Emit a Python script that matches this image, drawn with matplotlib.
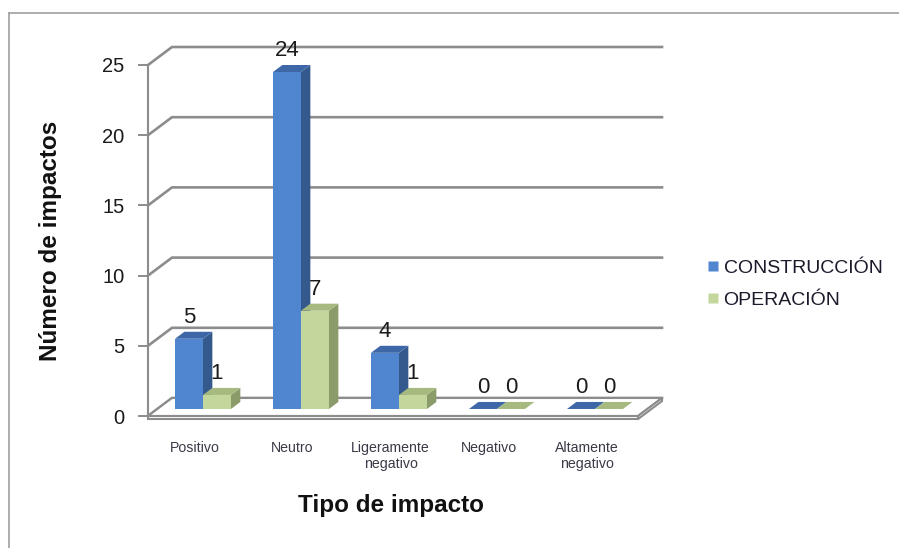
import matplotlib
matplotlib.use("Agg")
import matplotlib.pyplot as plt
from matplotlib.patches import Polygon
from matplotlib.lines import Line2D

plt.rcParams['font.family'] = ['Liberation Sans', 'DejaVu Sans']

# ---- data ----
categories = ["Positivo", "Neutro", "Ligeramente\nnegativo", "Negativo", "Altamente\nnegativo"]
construccion = [5, 24, 4, 0, 0]
operacion = [1, 7, 1, 0, 0]
series_names = ["CONSTRUCCIÓN", "OPERACIÓN"]
y_ticks = [0, 5, 10, 15, 20, 25]

# ---- styling ----
BLUE = dict(front="#4f86cf", side="#34598c", top="#3d67a6")
GREEN = dict(front="#c3d69b", side="#8b9b69", top="#a6ba80")
GRID = "#8c8c8c"

fig = plt.figure(figsize=(8.99, 5.48), dpi=100)
ax = fig.add_axes([148 / 899, (548 - 416) / 548, 490 / 899, 351 / 548])
ax.set_xlim(0, len(categories))
ax.set_ylim(0, 25)

# oblique depth projection (depth 0 = front plane, 1 = back wall)
DX = 24 / 98
DY = 18 / 14.04


def proj(x, y, d):
    return (x + d * DX, y + d * DY)


# back wall gridlines and left-wall diagonals
n = len(categories)
for v in y_ticks:
    p0 = proj(0, v, 0)
    p1 = proj(0, v, 1)
    p2 = proj(n, v, 1)
    ax.plot([p0[0], p1[0], p2[0]], [p0[1], p1[1], p2[1]], color=GRID,
            lw=1.9, clip_on=False, zorder=1, solid_joinstyle='miter')

# floor slab
t = 0.22
floor_top = [proj(0, 0, 0), proj(n, 0, 0), proj(n, 0, 1), proj(0, 0, 1)]
floor_front = [proj(0, -t, 0), proj(n, -t, 0), proj(n, 0, 0), proj(0, 0, 0)]
floor_side = [proj(n, -t, 0), proj(n, -t, 1), proj(n, 0, 1), proj(n, 0, 0)]
for poly in (floor_top, floor_front, floor_side):
    ax.add_patch(Polygon(poly, closed=True, facecolor="white", edgecolor=GRID,
                         lw=1.5, clip_on=False, zorder=2))

# 3D-looking bars
BW = 0.2857
D0, D1 = 0.39, 0.78
offsets = [0.18, 0.18 + BW]
series = [construccion, operacion]
styles = [BLUE, GREEN]

for i in range(n):
    for vals, sty, off in zip(series, styles, offsets):
        v = vals[i]
        x0 = i + off
        x1 = x0 + BW
        top = [proj(x0, v, D0), proj(x1, v, D0), proj(x1, v, D1), proj(x0, v, D1)]
        if v > 0:
            front = [proj(x0, 0, D0), proj(x1, 0, D0), proj(x1, v, D0), proj(x0, v, D0)]
            side = [proj(x1, 0, D0), proj(x1, 0, D1), proj(x1, v, D1), proj(x1, v, D0)]
            ax.add_patch(Polygon(front, closed=True, facecolor=sty["front"],
                                 edgecolor="none", clip_on=False, zorder=3))
            ax.add_patch(Polygon(side, closed=True, facecolor=sty["side"],
                                 edgecolor="none", clip_on=False, zorder=3))
        ax.add_patch(Polygon(top, closed=True, facecolor=sty["top"],
                             edgecolor="none", clip_on=False, zorder=3))
        lx, ly = proj(x0 + BW / 2, v, D1)
        lx -= (D1 - D0) * DX
        ax.annotate(str(v), (lx, ly), xytext=(0, 6.5), textcoords="offset points",
                    ha="center", va="baseline", fontsize=16, color="#1c1c1c",
                    annotation_clip=False, zorder=5)

# axes styling
for side_name in ("top", "right", "bottom"):
    ax.spines[side_name].set_visible(False)
ax.spines["left"].set_color(GRID)
ax.spines["left"].set_linewidth(1.5)
ax.spines["left"].set_zorder(2)
ax.set_yticks(y_ticks)
ax.tick_params(axis="y", length=7, width=1.4, color=GRID, pad=10,
               labelsize=14.5, labelcolor="#1a1a1a")
ax.set_xticks([i + 0.475 for i in range(n)])
ax.set_xticklabels(categories, fontsize=10.2, color="#3a3a48", linespacing=1.2)
ax.tick_params(axis="x", length=0, pad=18)
ax.patch.set_visible(False)

ax.set_ylabel("Número de impactos", fontsize=17.5, fontweight="bold", color="#111111")
ax.yaxis.set_label_coords(-0.1755, 0.5)
ax.text(0.496, -0.2536, "Tipo de impacto", transform=ax.transAxes, ha="center",
        va="center", fontsize=17.5, fontweight="bold", color="#111111")

# legend
handles = [Line2D([], [], ls="none", marker="s", markersize=6.5,
                  markerfacecolor=c, markeredgecolor="none")
           for c in (BLUE["front"], GREEN["front"])]
fig.legend(handles, series_names, loc="center left",
           bbox_to_anchor=(708 / 899, 1 - 284 / 548), frameon=False,
           fontsize=14, handlelength=0.5, handletextpad=0.3,
           labelspacing=0.75, borderpad=0, borderaxespad=0,
           labelcolor="#1a1a2a")

# outer chart border
fig.add_artist(Line2D([9 / 899, 1], [1 - 13 / 548, 1 - 13 / 548],
                      transform=fig.transFigure, color="#a0a0a0", lw=1.2))
fig.add_artist(Line2D([9 / 899, 9 / 899], [0, 1 - 13 / 548],
                      transform=fig.transFigure, color="#a0a0a0", lw=1.2))

fig.savefig("out.png", dpi=100)
